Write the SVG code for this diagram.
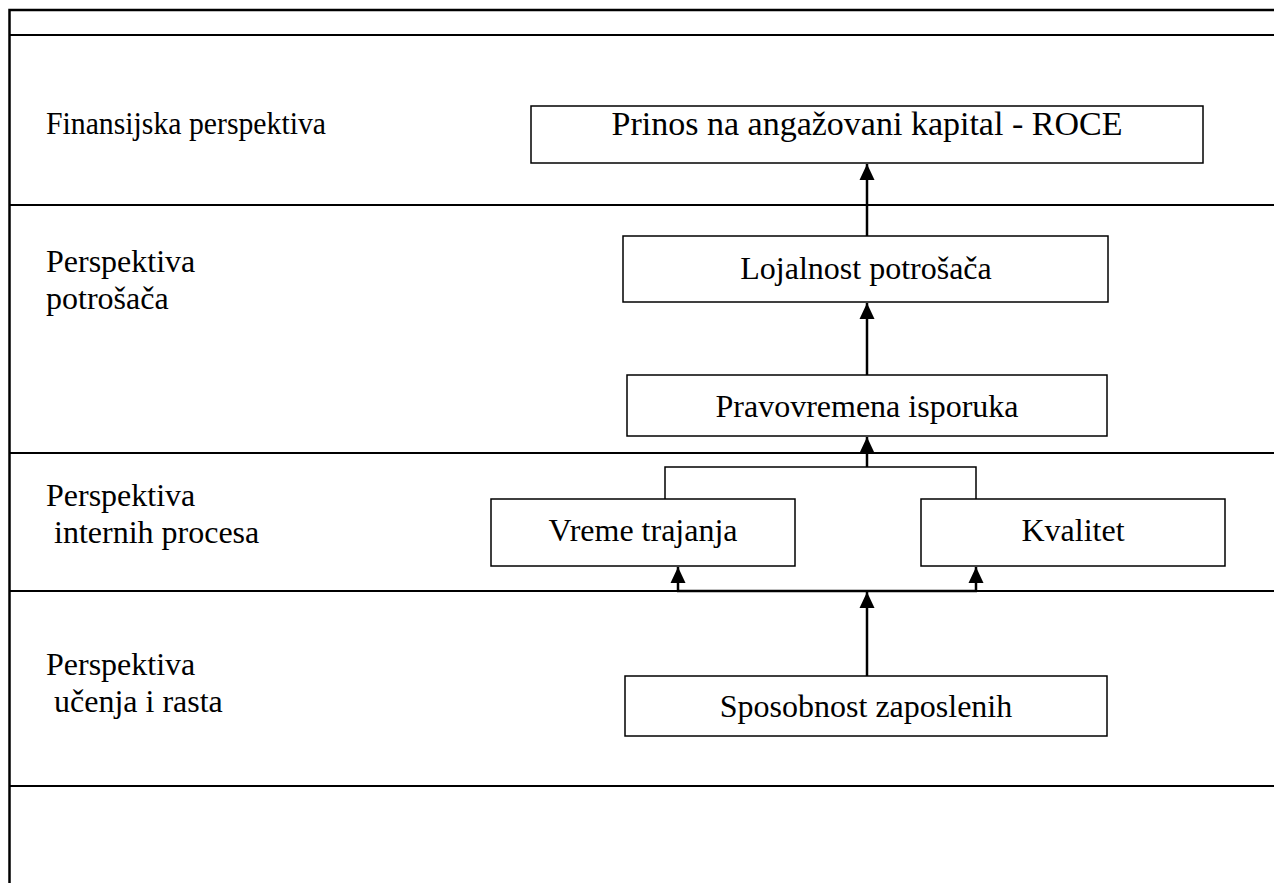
<svg xmlns="http://www.w3.org/2000/svg" width="1274" height="883" viewBox="0 0 1274 883">
<style>
.lane{stroke:#000;stroke-width:2;fill:none}
.frame{stroke:#000;stroke-width:2.5;fill:none}
.box{fill:#fff;stroke:#000;stroke-width:1.5}
.t{font-family:"Liberation Serif","Times New Roman",serif;font-size:32px;fill:#000;text-anchor:middle}
.lbl{font-family:"Liberation Serif","Times New Roman",serif;font-size:32px;fill:#000}
.c{stroke:#000;stroke-width:2.5;fill:none}
.thin{stroke:#000;stroke-width:1.5;fill:none}
</style>
<defs>
<marker id="up" markerUnits="userSpaceOnUse" markerWidth="16" markerHeight="16" viewBox="-8 0 16 16" refX="0" refY="0" orient="0">
<path d="M0,0 L7.5,16 L-7.5,16 Z" fill="#000"/>
</marker>
</defs>
<rect width="1274" height="883" fill="#fff"/>
<g id="lanes">
<path class="frame" d="M1274,10 H9.5 V883"/>
<line class="lane" x1="9" y1="35" x2="1274" y2="35"/>
<line class="lane" x1="9" y1="205" x2="1274" y2="205"/>
<line class="lane" x1="9" y1="453" x2="1274" y2="453"/>
<line class="lane" x1="9" y1="591" x2="1274" y2="591"/>
<line class="lane" x1="9" y1="786" x2="1274" y2="786"/>
</g>
<g id="labels">
<text class="lbl" x="46" y="134" textLength="280" lengthAdjust="spacingAndGlyphs">Finansijska perspektiva</text>
<text class="lbl" x="46" y="272">Perspektiva</text>
<text class="lbl" x="46" y="309">potrošača</text>
<text class="lbl" x="46" y="506">Perspektiva</text>
<text class="lbl" x="54" y="543">internih procesa</text>
<text class="lbl" x="46" y="675">Perspektiva</text>
<text class="lbl" x="54" y="712">učenja i rasta</text>
</g>
<g id="connectors">
<line class="c" x1="867" y1="236" x2="867" y2="164" marker-end="url(#up)"/>
<line class="c" x1="867" y1="375" x2="867" y2="303" marker-end="url(#up)"/>
<line class="c" x1="867" y1="467" x2="867" y2="437" marker-end="url(#up)"/>
<path class="thin" d="M665,499 V467 H976 V499"/>
<line class="c" x1="677" y1="591" x2="977" y2="591"/>
<line class="c" x1="678" y1="591" x2="678" y2="567" marker-end="url(#up)"/>
<line class="c" x1="976" y1="591" x2="976" y2="567" marker-end="url(#up)"/>
<line class="c" x1="867" y1="676" x2="867" y2="592" marker-end="url(#up)"/>
</g>
<g id="roce">
<rect class="box" x="531" y="106" width="672" height="57"/>
<text class="t" x="867" y="135" style="font-size:34px">Prinos na angažovani kapital - ROCE</text>
</g>
<g id="lojalnost">
<rect class="box" x="623" y="236" width="485" height="66"/>
<text class="t" x="866" y="279">Lojalnost potrošača</text>
</g>
<g id="pravovremena">
<rect class="box" x="627" y="375" width="480" height="61"/>
<text class="t" x="867" y="417">Pravovremena isporuka</text>
</g>
<g id="vreme">
<rect class="box" x="491" y="499" width="304" height="67"/>
<text class="t" x="643" y="541">Vreme trajanja</text>
</g>
<g id="kvalitet">
<rect class="box" x="921" y="499" width="304" height="67"/>
<text class="t" x="1073" y="541">Kvalitet</text>
</g>
<g id="sposobnost">
<rect class="box" x="625" y="676" width="482" height="60"/>
<text class="t" x="866" y="717">Sposobnost zaposlenih</text>
</g>
</svg>
